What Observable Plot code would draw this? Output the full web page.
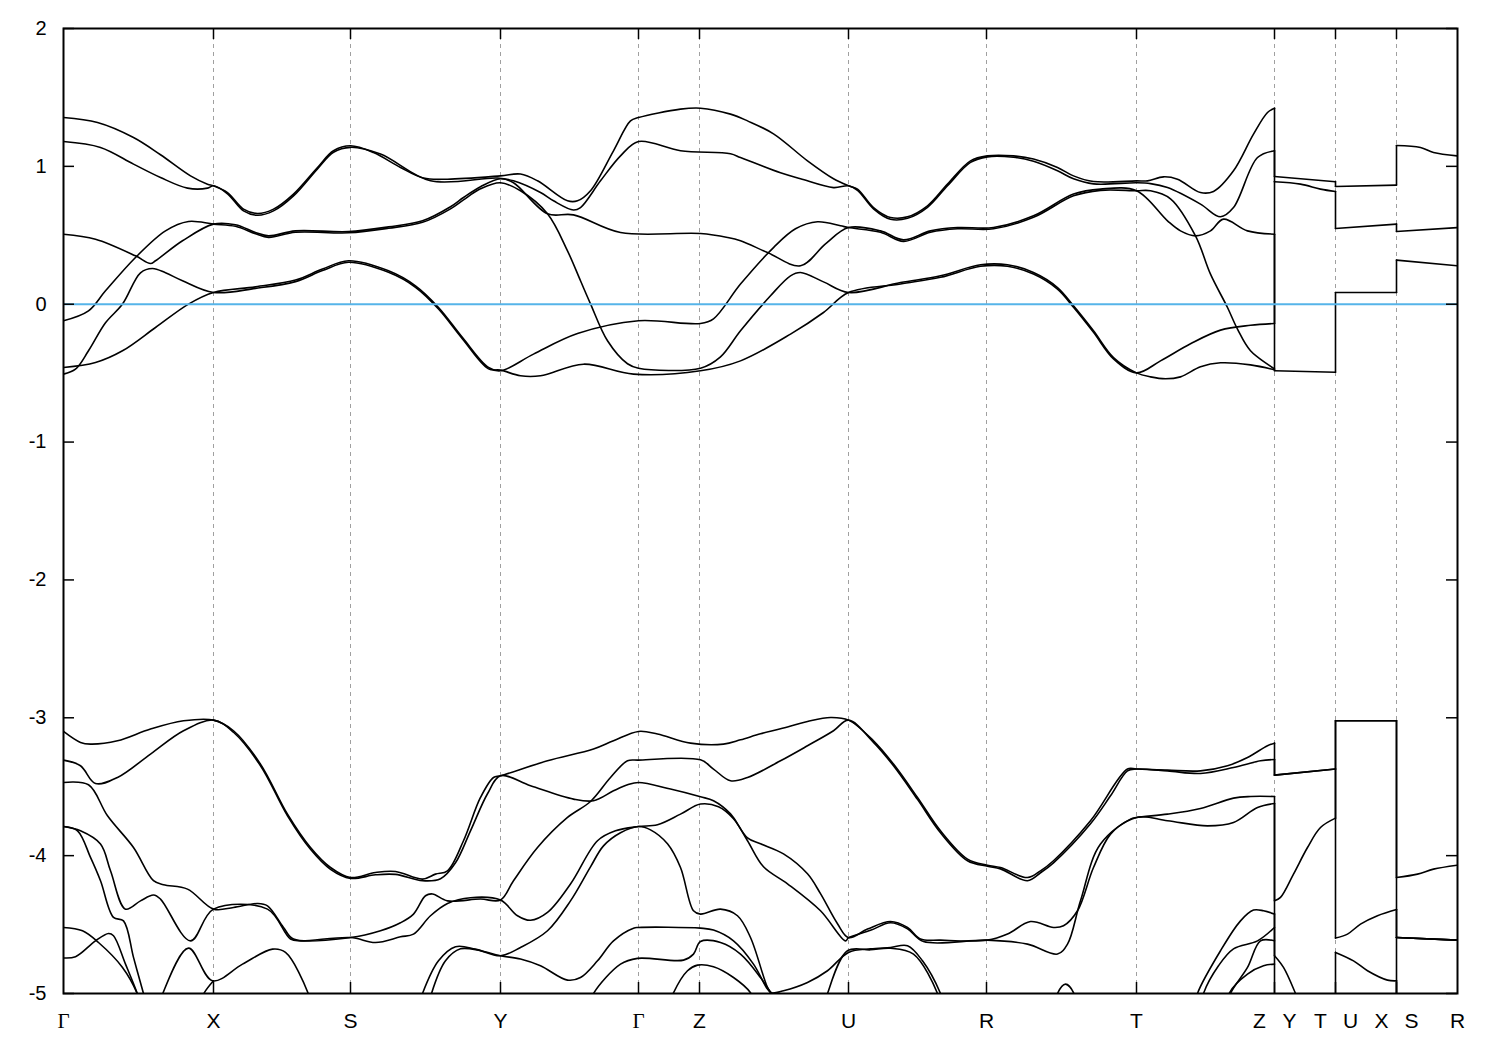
<!DOCTYPE html>
<html><head><meta charset="utf-8">
<script src="https://cdn.jsdelivr.net/npm/d3@7"></script>
<script src="https://cdn.jsdelivr.net/npm/@observablehq/plot@0.6"></script>
<style>body{margin:0;background:#fff}</style>
</head><body><div id="chart"></div>
<script>
// High-symmetry k-path positions and labels
const kTicks = [0, 0.150, 0.287, 0.437, 0.575, 0.636, 0.785, 0.923, 1.073, 1.211, 1.272, 1.333, 1.394];
const kLabels = ["Γ","X","S","Y","Γ","Z","U","R","T","Z|Y","T|U","X|S","R"];
const yTicks = [-5,-4,-3,-2,-1,0,1,2];
const yMin = -5, yMax = 2;

// Bands near the Fermi level [k, E]
const c1 = [[0,1.354],[0.034,1.318],[0.070,1.209],[0.097,1.084],[0.127,0.931],[0.144,0.871],[0.150,0.859],[0.164,0.810],[0.180,0.690],[0.194,0.658],[0.210,0.690],[0.230,0.799],[0.254,0.992],[0.270,1.113],[0.287,1.149],[0.310,1.100],[0.337,0.992],[0.360,0.915],[0.384,0.907],[0.437,0.931],[0.457,0.944],[0.474,0.895],[0.504,0.750],[0.514,0.750],[0.527,0.823],[0.550,1.113],[0.567,1.330],[0.575,1.354],[0.617,1.415],[0.637,1.422],[0.667,1.379],[0.684,1.330],[0.710,1.236],[0.744,1.040],[0.770,0.910],[0.785,0.859],[0.794,0.835],[0.810,0.701],[0.827,0.629],[0.844,0.634],[0.864,0.714],[0.884,0.871],[0.907,1.040],[0.924,1.076],[0.950,1.076],[0.970,1.053],[0.994,0.992],[1.010,0.931],[1.030,0.890],[1.073,0.895],[1.084,0.895],[1.100,0.924],[1.114,0.907],[1.137,0.810],[1.150,0.818],[1.170,0.968],[1.190,1.234],[1.204,1.391],[1.211,1.422],[1.211,0.926],[1.272,0.888],[1.272,0.854],[1.333,0.864],[1.333,1.151],[1.357,1.137],[1.370,1.100],[1.394,1.076]];
const c2 = [[0,1.180],[0.037,1.137],[0.070,1.016],[0.097,0.919],[0.124,0.842],[0.144,0.842],[0.150,0.859],[0.164,0.801],[0.180,0.677],[0.194,0.645],[0.210,0.677],[0.230,0.786],[0.254,0.982],[0.270,1.102],[0.287,1.138],[0.317,1.089],[0.367,0.895],[0.434,0.915],[0.450,0.895],[0.477,0.810],[0.490,0.750],[0.510,0.683],[0.517,0.701],[0.537,0.895],[0.557,1.076],[0.575,1.180],[0.617,1.113],[0.667,1.091],[0.677,1.064],[0.717,0.953],[0.737,0.910],[0.770,0.846],[0.785,0.859],[0.794,0.826],[0.810,0.692],[0.827,0.616],[0.844,0.623],[0.864,0.703],[0.884,0.859],[0.907,1.029],[0.924,1.069],[0.950,1.066],[0.970,1.037],[0.994,0.968],[1.010,0.910],[1.030,0.873],[1.073,0.881],[1.087,0.875],[1.104,0.846],[1.137,0.726],[1.157,0.634],[1.170,0.701],[1.194,1.064],[1.211,1.113],[1.211,0.888],[1.237,0.871],[1.257,0.835],[1.272,0.818],[1.272,0.549],[1.333,0.581],[1.333,0.527],[1.394,0.556]];
const c3 = [[0,0.508],[0.032,0.472],[0.072,0.351],[0.087,0.295],[0.092,0.315],[0.119,0.460],[0.150,0.581],[0.172,0.576],[0.192,0.520],[0.205,0.496],[0.232,0.532],[0.285,0.527],[0.325,0.561],[0.359,0.605],[0.387,0.707],[0.400,0.774],[0.417,0.852],[0.437,0.910],[0.450,0.881],[0.484,0.656],[0.510,0.648],[0.557,0.520],[0.637,0.513],[0.664,0.484],[0.677,0.460],[0.704,0.375],[0.737,0.279],[0.762,0.438],[0.785,0.556],[0.817,0.532],[0.840,0.467],[0.867,0.532],[0.894,0.556],[0.930,0.556],[0.970,0.641],[1.010,0.799],[1.037,0.835],[1.073,0.823],[1.104,0.605],[1.117,0.532],[1.132,0.496],[1.147,0.532],[1.160,0.617],[1.184,0.532],[1.211,0.508],[1.211,-0.483],[1.272,-0.494],[1.272,0.085],[1.333,0.085],[1.333,0.320],[1.394,0.279]];
const c4 = [[0,-0.120],[0.025,-0.048],[0.042,0.097],[0.072,0.339],[0.102,0.532],[0.125,0.600],[0.150,0.581],[0.172,0.565],[0.192,0.511],[0.205,0.485],[0.232,0.522],[0.285,0.518],[0.325,0.551],[0.359,0.594],[0.387,0.692],[0.400,0.757],[0.417,0.837],[0.437,0.881],[0.457,0.823],[0.484,0.656],[0.504,0.387],[0.517,0.170],[0.527,0.003],[0.544,-0.265],[0.564,-0.432],[0.575,-0.464],[0.637,-0.464],[0.657,-0.382],[0.677,-0.193],[0.707,0.061],[0.727,0.206],[0.737,0.230],[0.760,0.162],[0.785,0.085],[0.837,0.157],[0.877,0.206],[0.917,0.286],[0.944,0.286],[0.970,0.230],[0.994,0.121],[1.010,-0.012],[1.030,-0.193],[1.050,-0.387],[1.073,-0.498],[1.087,-0.527],[1.102,-0.541],[1.117,-0.527],[1.137,-0.454],[1.157,-0.425],[1.187,-0.440],[1.211,-0.476]];
const c5 = [[0,-0.459],[0.032,-0.423],[0.059,-0.338],[0.092,-0.169],[0.125,0.001],[0.150,0.085],[0.192,0.126],[0.232,0.175],[0.259,0.255],[0.285,0.315],[0.325,0.242],[0.352,0.133],[0.375,-0.024],[0.399,-0.242],[0.425,-0.459],[0.437,-0.483],[0.470,-0.362],[0.514,-0.213],[0.575,-0.120],[0.637,-0.140],[0.650,-0.106],[0.677,0.146],[0.710,0.411],[0.732,0.547],[0.754,0.598],[0.777,0.569],[0.785,0.556],[0.817,0.522],[0.840,0.456],[0.867,0.522],[0.894,0.547],[0.930,0.547],[0.970,0.630],[1.010,0.786],[1.037,0.826],[1.073,0.823],[1.087,0.823],[1.107,0.765],[1.132,0.496],[1.147,0.218],[1.164,-0.024],[1.174,-0.181],[1.187,-0.338],[1.211,-0.469]];
const c6 = [[0,-0.507],[0.012,-0.471],[0.025,-0.338],[0.042,-0.135],[0.059,0.001],[0.077,0.228],[0.089,0.259],[0.102,0.228],[0.119,0.170],[0.150,0.085],[0.192,0.115],[0.232,0.164],[0.259,0.244],[0.285,0.304],[0.325,0.231],[0.352,0.123],[0.375,-0.035],[0.399,-0.252],[0.425,-0.469],[0.437,-0.478],[0.457,-0.519],[0.477,-0.519],[0.520,-0.435],[0.570,-0.507],[0.637,-0.483],[0.677,-0.411],[0.727,-0.217],[0.760,-0.060],[0.785,0.085],[0.837,0.147],[0.877,0.195],[0.917,0.275],[0.944,0.275],[0.970,0.219],[0.994,0.110],[1.010,-0.022],[1.030,-0.204],[1.050,-0.397],[1.073,-0.498],[1.097,-0.411],[1.127,-0.287],[1.157,-0.188],[1.187,-0.153],[1.211,-0.140],[1.211,0.888]];

// Lower (valence) bands [k, E]
const d1 = [[0,-3.099],[0.017,-3.179],[0.027,-3.191],[0.054,-3.167],[0.087,-3.082],[0.120,-3.022],[0.150,-3.017],[0.170,-3.094],[0.197,-3.336],[0.224,-3.699],[0.247,-3.941],[0.267,-4.086],[0.287,-4.159],[0.312,-4.122],[0.332,-4.115],[0.359,-4.170],[0.372,-4.134],[0.384,-4.110],[0.400,-3.892],[0.417,-3.578],[0.430,-3.433],[0.437,-3.421],[0.484,-3.312],[0.530,-3.227],[0.550,-3.167],[0.575,-3.099],[0.594,-3.118],[0.627,-3.184],[0.660,-3.191],[0.677,-3.160],[0.697,-3.116],[0.717,-3.080],[0.744,-3.027],[0.767,-2.998],[0.785,-3.017],[0.810,-3.167],[0.830,-3.336],[0.854,-3.578],[0.877,-3.820],[0.904,-4.025],[0.924,-4.069],[0.937,-4.086],[0.964,-4.159],[0.977,-4.110],[0.990,-4.037],[1.027,-3.747],[1.064,-3.372],[1.073,-3.372],[1.104,-3.380],[1.137,-3.385],[1.164,-3.348],[1.184,-3.288],[1.204,-3.203],[1.211,-3.184],[1.211,-3.416],[1.272,-3.372],[1.272,-3.022],[1.333,-3.022],[1.333,-4.159],[1.354,-4.134],[1.370,-4.098],[1.394,-4.069]];
const d2 = [[0,-3.307],[0.017,-3.348],[0.032,-3.477],[0.054,-3.433],[0.087,-3.263],[0.120,-3.094],[0.150,-3.017],[0.170,-3.105],[0.197,-3.348],[0.224,-3.711],[0.247,-3.954],[0.267,-4.099],[0.287,-4.165],[0.312,-4.139],[0.332,-4.136],[0.359,-4.182],[0.377,-4.168],[0.392,-4.052],[0.407,-3.820],[0.424,-3.551],[0.437,-3.421],[0.467,-3.493],[0.510,-3.590],[0.530,-3.602],[0.550,-3.530],[0.564,-3.486],[0.575,-3.469],[0.607,-3.517],[0.637,-3.573],[0.650,-3.602],[0.667,-3.697],[0.684,-3.871],[0.697,-3.914],[0.720,-3.987],[0.744,-4.132],[0.757,-4.276],[0.774,-4.494],[0.785,-4.594],[0.804,-4.533],[0.827,-4.478],[0.844,-4.521],[0.857,-4.605],[0.877,-4.613],[0.924,-4.613],[0.944,-4.569],[0.967,-4.478],[0.990,-4.521],[1.000,-4.509],[1.014,-4.400],[1.030,-4.086],[1.047,-3.844],[1.067,-3.735],[1.073,-3.723],[1.104,-3.699],[1.137,-3.658],[1.170,-3.583],[1.187,-3.571],[1.211,-3.571],[1.211,-4.328],[1.217,-4.303],[1.230,-4.134],[1.244,-3.941],[1.257,-3.796],[1.272,-3.728],[1.272,-3.022],[1.333,-3.022],[1.333,-4.594],[1.394,-4.613]];
const d3 = [[0,-3.469],[0.025,-3.486],[0.044,-3.711],[0.070,-3.941],[0.090,-4.182],[0.100,-4.211],[0.124,-4.243],[0.150,-4.388],[0.170,-4.376],[0.194,-4.347],[0.204,-4.364],[0.220,-4.521],[0.230,-4.605],[0.287,-4.594],[0.317,-4.545],[0.337,-4.487],[0.350,-4.424],[0.362,-4.291],[0.369,-4.278],[0.384,-4.328],[0.417,-4.315],[0.437,-4.322],[0.450,-4.182],[0.474,-3.941],[0.504,-3.723],[0.527,-3.607],[0.547,-3.433],[0.564,-3.312],[0.575,-3.307],[0.637,-3.305],[0.650,-3.372],[0.667,-3.457],[0.684,-3.433],[0.717,-3.312],[0.744,-3.203],[0.770,-3.094],[0.785,-3.017],[0.810,-3.178],[0.830,-3.348],[0.854,-3.592],[0.877,-3.834],[0.904,-4.037],[0.924,-4.077],[0.937,-4.096],[0.964,-4.182],[0.977,-4.124],[0.990,-4.052],[1.027,-3.769],[1.047,-3.566],[1.064,-3.385],[1.073,-3.372],[1.104,-3.385],[1.137,-3.404],[1.170,-3.361],[1.197,-3.312],[1.211,-3.303],[1.211,-3.416],[1.272,-3.372],[1.272,-4.598],[1.284,-4.569],[1.297,-4.497],[1.314,-4.436],[1.333,-4.391],[1.333,-4.594],[1.394,-4.613]];
const d4 = [[0,-3.789],[0.017,-3.820],[0.037,-3.916],[0.047,-4.110],[0.062,-4.388],[0.077,-4.328],[0.090,-4.286],[0.097,-4.315],[0.127,-4.618],[0.150,-4.388],[0.204,-4.388],[0.227,-4.605],[0.237,-4.618],[0.287,-4.594],[0.312,-4.630],[0.337,-4.589],[0.350,-4.569],[0.367,-4.436],[0.384,-4.347],[0.407,-4.305],[0.437,-4.322],[0.454,-4.436],[0.467,-4.469],[0.484,-4.412],[0.507,-4.206],[0.534,-3.892],[0.552,-3.820],[0.575,-3.789],[0.594,-3.776],[0.617,-3.699],[0.637,-3.626],[0.655,-3.646],[0.670,-3.733],[0.684,-3.892],[0.700,-4.081],[0.724,-4.204],[0.757,-4.400],[0.782,-4.618],[0.785,-4.596],[0.807,-4.542],[0.827,-4.487],[0.844,-4.531],[0.860,-4.623],[0.924,-4.613],[0.964,-4.642],[0.994,-4.714],[1.004,-4.642],[1.017,-4.328],[1.037,-3.916],[1.073,-3.723],[1.104,-3.747],[1.144,-3.784],[1.170,-3.760],[1.194,-3.651],[1.211,-3.622],[1.211,-4.726],[1.220,-4.811],[1.232,-5.0],[1.240,-5.15],[1.272,-5.15],[1.272,-4.702],[1.290,-4.763],[1.304,-4.835],[1.324,-4.903],[1.333,-4.908],[1.333,-5.15]];
const d5 = [[0,-3.789],[0.014,-3.820],[0.027,-4.013],[0.037,-4.182],[0.050,-4.448],[0.060,-4.473],[0.070,-4.738],[0.080,-5.0],[0.084,-5.1]];
const d5b = [[0.355,-5.1],[0.359,-5.0],[0.375,-4.763],[0.392,-4.661],[0.412,-4.678],[0.437,-4.726],[0.457,-4.666],[0.484,-4.545],[0.507,-4.328],[0.527,-4.081],[0.540,-3.929],[0.557,-3.834],[0.575,-3.789],[0.587,-3.813],[0.604,-3.914],[0.617,-4.086],[0.630,-4.400],[0.637,-4.424],[0.657,-4.388],[0.674,-4.436],[0.687,-4.594],[0.704,-4.956],[0.708,-5.0],[0.711,-5.07]];
const d6 = [[0,-4.521],[0.019,-4.545],[0.035,-4.630],[0.059,-4.811],[0.074,-5.005],[0.077,-5.08]];
const d6b = [[0.365,-5.1],[0.368,-5.0],[0.382,-4.763],[0.397,-4.676],[0.417,-4.690],[0.437,-4.726],[0.457,-4.750],[0.477,-4.799],[0.504,-4.903],[0.517,-4.884],[0.534,-4.763],[0.550,-4.618],[0.570,-4.526],[0.575,-4.521],[0.637,-4.526],[0.650,-4.540],[0.670,-4.618],[0.690,-4.787],[0.704,-4.968],[0.708,-4.995],[0.720,-4.980],[0.744,-4.920],[0.764,-4.835],[0.785,-4.702],[0.807,-4.676],[0.827,-4.666],[0.844,-4.654],[0.859,-4.763],[0.877,-5.0],[0.880,-5.07]];
const d7 = [[0,-4.742],[0.012,-4.733],[0.032,-4.618],[0.045,-4.565],[0.050,-4.581],[0.062,-4.787],[0.074,-5.005],[0.077,-5.08]];
const d7b = [[0.525,-5.1],[0.530,-5.0],[0.557,-4.787],[0.574,-4.745],[0.620,-4.758],[0.630,-4.714],[0.637,-4.623],[0.657,-4.630],[0.677,-4.714],[0.697,-4.884],[0.707,-4.993],[0.712,-5.07]];
const d8 = [[0.605,-5.1],[0.610,-4.995],[0.624,-4.835],[0.634,-4.794],[0.650,-4.806],[0.670,-4.884],[0.687,-4.995],[0.690,-5.06]];
const d9 = [[0.095,-5.1],[0.099,-5.005],[0.125,-4.671],[0.149,-4.908],[0.179,-4.787],[0.209,-4.678],[0.222,-4.702],[0.245,-5.005],[0.248,-5.1]];
const d9b = [[0.136,-5.1],[0.140,-5.005],[0.150,-4.908]];
const d10 = [[0.992,-5.08],[0.994,-5.0],[1.002,-4.932],[1.010,-4.993],[1.012,-5.08]];
const d11 = [[0.761,-5.08],[0.764,-5.0],[0.784,-4.690],[0.807,-4.683],[0.827,-4.672],[0.850,-4.714],[0.874,-5.0],[0.876,-5.07]];
const d12 = [[1.132,-5.08],[1.134,-5.0],[1.157,-4.690],[1.177,-4.473],[1.190,-4.395],[1.200,-4.400],[1.211,-4.424],[1.211,-5.15],[1.333,-5.15],[1.333,-4.594],[1.394,-4.613]];
const d13 = [[1.138,-5.08],[1.140,-5.0],[1.155,-4.799],[1.170,-4.676],[1.194,-4.618],[1.211,-4.521]];
const d14 = [[1.165,-5.08],[1.167,-5.0],[1.184,-4.811],[1.197,-4.618],[1.211,-4.618]];
const d15 = [[1.164,-5.08],[1.166,-4.995],[1.184,-4.859],[1.200,-4.799],[1.211,-4.787]];

const bands = [c1,c2,c3,c4,c5,c6,d1,d2,d3,d4,d5,d5b,d6,d6b,d7,d7b,d8,d9,d9b,d10,d11,d12,d13,d14,d15];

// split each band into smooth pieces and straight jumps at path discontinuities
const rows = [];
let seg = 0;
bands.forEach(b => {
  seg++;
  b.forEach(([k, E], i) => {
    if (i > 0 && k === b[i-1][0]) {
      seg++;
      rows.push({k: b[i-1][0], E: b[i-1][1], seg});
      rows.push({k, E, seg});
      seg++;
    }
    rows.push({k, E, seg});
  });
});

const labelRows = [];
kTicks.forEach((k, i) => {
  const parts = kLabels[i].split("|");
  if (parts.length === 2) {
    labelRows.push({k, label: parts[0], side: "L"});
    labelRows.push({k, label: parts[1], side: "R"});
  } else labelRows.push({k, label: parts[0], side: "C"});
});

const W = 1500, H = 1050, mt = 28, mb = 57, ml = 63, mr = 43;
const kMax = kTicks[kTicks.length - 1];
const interior = kTicks.slice(1, -1);
const tickPx = 11;
const tickK = tickPx * kMax / (W - ml - mr);
const tickE = tickPx * (yMax - yMin) / (H - mt - mb);
const sans = "'Liberation Sans', Arial, Helvetica, sans-serif";
const labelOpts = {x: "k", text: "label", frameAnchor: "bottom", lineAnchor: "top", dy: 20, fontSize: 21, fill: "black"};

const plot = Plot.plot({
  width: W, height: H,
  marginTop: mt, marginBottom: mb, marginLeft: ml, marginRight: mr,
  x: {domain: [0, kMax], axis: null},
  y: {domain: [yMin, yMax], axis: null},
  style: {fontFamily: sans, fontSize: "20px", background: "white", color: "black"},
  marks: [
    Plot.ruleX(interior, {stroke: "#a0a0a0", strokeWidth: 1, strokeDasharray: "4,4"}),
    Plot.line(rows, {x: "k", y: "E", z: "seg", stroke: "black", strokeWidth: 1.6, curve: "catmull-rom", clip: true}),
    Plot.ruleY([0], {stroke: "#56b4e9", strokeWidth: 2}),
    Plot.ruleY(yTicks, {x1: 0, x2: tickK, stroke: "black", strokeWidth: 1.5}),
    Plot.ruleY(yTicks, {x1: kMax - tickK, x2: kMax, stroke: "black", strokeWidth: 1.5}),
    Plot.ruleX(interior, {y1: yMax, y2: yMax - tickE, stroke: "black", strokeWidth: 1.5}),
    Plot.ruleX(interior, {y1: yMin, y2: yMin + tickE, stroke: "black", strokeWidth: 1.5}),
    Plot.axisY({ticks: yTicks, tickSize: 0, tickPadding: 17, tickFormat: d => String(d), label: null, fontSize: 20}),
    Plot.text(labelRows.filter(d => d.side === "C" && d.label !== "Γ"), {...labelOpts, fontFamily: sans}),
    Plot.text(labelRows.filter(d => d.label === "Γ"), {...labelOpts, fontFamily: "'Liberation Serif', 'Times New Roman', serif"}),
    Plot.text(labelRows.filter(d => d.side === "L"), {...labelOpts, dx: -15, fontFamily: sans}),
    Plot.text(labelRows.filter(d => d.side === "R"), {...labelOpts, dx: 15, fontFamily: sans}),
    Plot.frame({stroke: "black", strokeWidth: 2})
  ]
});
document.getElementById("chart").appendChild(plot);
</script>
</body></html>
